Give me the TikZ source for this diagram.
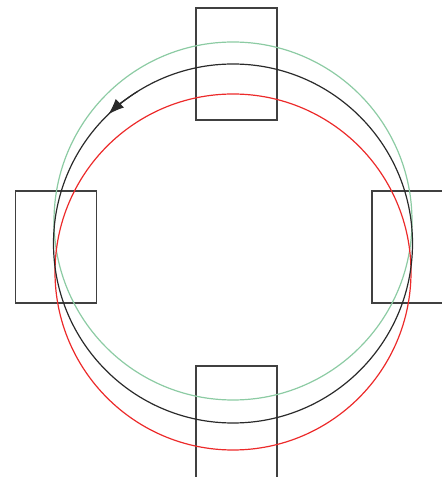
\documentclass[tikz,border=0pt]{standalone}
\usepackage{tikz}
\usetikzlibrary{arrows.meta}
\definecolor{OrbitGreen}{HTML}{8CCBA3}
\definecolor{OrbitRed}{HTML}{EC2A2A}
\definecolor{OrbitGray}{HTML}{2A2A2A}

\begin{document}
\begin{tikzpicture}[
  x=0.5pt, y=0.5pt,
  coilbox/.style={draw=black!75, line width=0.7pt, minimum width=40.5pt, minimum height=56pt, inner sep=0pt},
  orbit/.style={line width=0.6pt}
]
\useasboundingbox (0,0) rectangle (442,477);
% coils at the four sides
\node[coilbox] (coiltop) at (236.5,413) {};
\node[coilbox] (coilleft) at (56,230) {};
\node[coilbox] (coilright) at (412.5,230) {};
\node[coilbox] (coilbottom) at (236.5,55) {};
% orbits
\draw[orbit, OrbitGreen] (233,256) circle (179);
\draw[orbit, OrbitRed] (233,205) circle (178);
\draw[orbit, OrbitGray] (233,233.5) circle (179.5);
\draw[orbit, OrbitGray, -{Latex[length=8pt, width=6pt]}] ([shift={(122:179.5)}]233,233.5) arc (122:134:179.5);
\end{tikzpicture}
\end{document}
